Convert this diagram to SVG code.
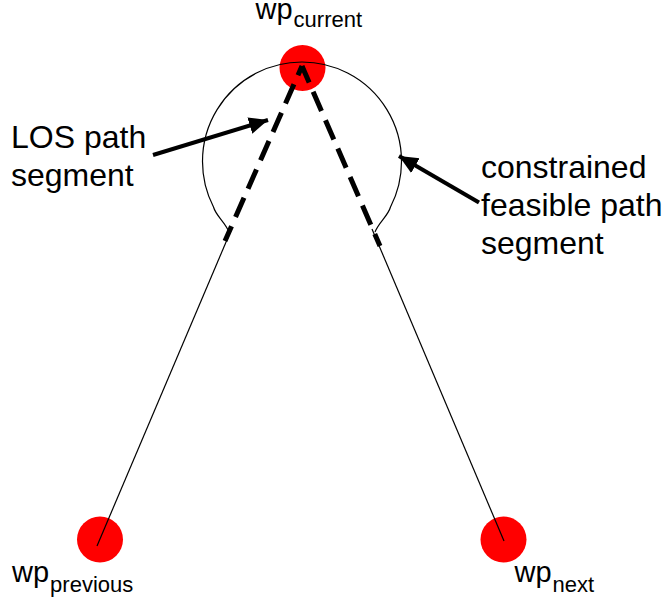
<svg xmlns="http://www.w3.org/2000/svg" width="665" height="605" viewBox="0 0 665 605">
<style>
.wp{fill:#ff0000;stroke:none}
.thin{fill:none;stroke:#000;stroke-width:1.2}
.dash{fill:none;stroke:#000;stroke-width:5;stroke-dasharray:21 10}
.arrow{fill:none;stroke:#000;stroke-width:4}
text{font-family:"Liberation Sans",Arial,sans-serif;fill:#000}
.lbl{font-size:32px}
.wpt{font-size:29px}
.sub{font-size:22px}
</style>
<defs>
<marker id="ah" markerUnits="userSpaceOnUse" markerWidth="22" markerHeight="18" refX="19" refY="8.5" orient="auto">
<path d="M0,0 L19,8.5 L0,17 Z" fill="#000"/>
</marker>
</defs>
<g id="wp_current"><circle class="wp" cx="302.5" cy="68" r="23"/>
<text class="wpt" x="255.5" y="19">wp<tspan class="sub" dx="1" dy="8">current</tspan></text></g>
<g id="wp_previous"><circle class="wp" cx="100" cy="539.5" r="23"/>
<text class="wpt" x="12" y="582">wp<tspan class="sub" dx="1" dy="10">previous</tspan></text></g>
<g id="wp_next"><circle class="wp" cx="503.5" cy="539.5" r="23"/>
<text class="wpt" x="514.5" y="582">wp<tspan class="sub" dx="1" dy="10">next</tspan></text></g>
<g id="connectors">
<path class="thin" d="M97,546 L232,228"/>
<path class="thin" d="M504,541 L372,229"/>
<path class="thin" d="M229,232 C225,222 216,216 213.5,207 A99.5 99.5 0 1 1 390.5,207 C388,216 379,222 375,232"/>
<path class="dash" style="stroke-dashoffset:11" d="M302,66 L225,241"/>
<path class="dash" style="stroke-dashoffset:3" d="M302,66 L380,246"/>
<path class="arrow" marker-end="url(#ah)" d="M153,155 L268,120"/>
<path class="arrow" marker-end="url(#ah)" d="M479,202.5 L399,156"/>
</g>
<g id="label_los"><text class="lbl" x="11" y="148">LOS path</text><text class="lbl" x="11" y="186">segment</text></g>
<g id="label_feasible"><text class="lbl" x="481" y="178">constrained</text><text class="lbl" x="481" y="216">feasible path</text><text class="lbl" x="481" y="254">segment</text></g>
</svg>
